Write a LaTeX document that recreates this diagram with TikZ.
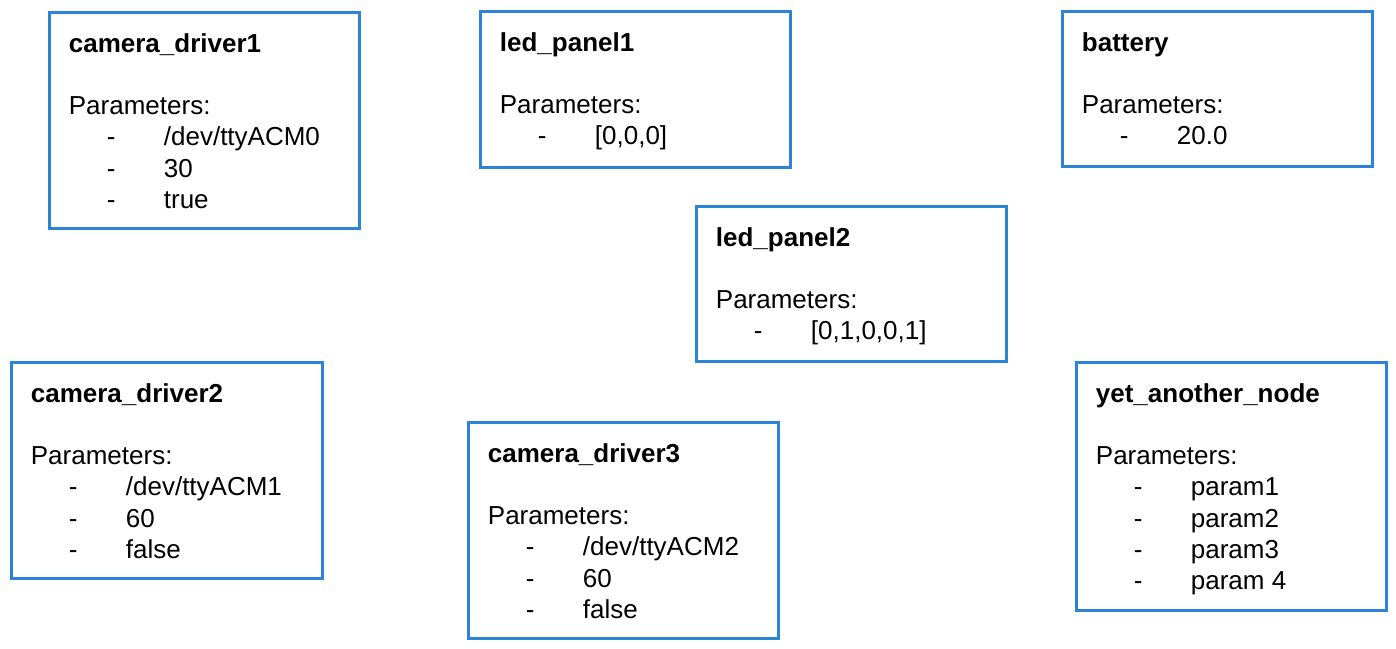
\documentclass[tikz,border=0pt]{standalone}
\usepackage{fontspec}
\setmainfont{Liberation Sans}
\usetikzlibrary{fit,calc}
\definecolor{boxblue}{RGB}{44,132,216}
\newcommand\mybox[6]{%
  \node[box, fit={(#2,#3) (#4,#5)}] (#1) {};
  \node[ttl] (#1-t) at ($(#1.north west)+(21,42)$) {#6};
  \node[txt] (#1-p) at ($(#1.north west)+(21,104)$) {Parameters:};
}
\newcommand\myitem[3]{%
  \node[txt] (#1-d#2) at ($(#1.north west)+(59,104+31.3*#2)$) {-};
  \node[txt] (#1-v#2) at ($(#1.north west)+(116,104+31.3*#2)$) {#3};
}
\tikzset{
  box/.style={draw=boxblue, line width=1.5pt, inner sep=0pt, fill=white},
  txt/.style={anchor=base west, inner sep=0pt, font=\fontsize{13}{15}\selectfont},
  ttl/.style={txt, font=\fontsize{13}{15}\selectfont\bfseries},
}
\begin{document}
\begin{tikzpicture}[x=0.5pt,y=-0.5pt]
\useasboundingbox (0,0) rectangle (1396,648);
\mybox{cd1}{49}{12}{359}{228}{camera\_driver1}
\myitem{cd1}{1}{/dev/ttyACM0}
\myitem{cd1}{2}{30}
\myitem{cd1}{3}{true}
\mybox{lp1}{480}{11}{790}{167}{led\_panel1}
\myitem{lp1}{1}{[0,0,0]}
\mybox{bat}{1062}{11}{1372}{166}{battery}
\myitem{bat}{1}{20.0}
\mybox{lp2}{696}{206}{1006}{361}{led\_panel2}
\myitem{lp2}{1}{[0,1,0,0,1]}
\mybox{cd2}{11}{362}{322}{578}{camera\_driver2}
\myitem{cd2}{1}{/dev/ttyACM1}
\myitem{cd2}{2}{60}
\myitem{cd2}{3}{false}
\mybox{cd3}{468}{422}{778}{638}{camera\_driver3}
\myitem{cd3}{1}{/dev/ttyACM2}
\myitem{cd3}{2}{60}
\myitem{cd3}{3}{false}
\mybox{yan}{1076}{362}{1386}{610}{yet\_another\_node}
\myitem{yan}{1}{param1}
\myitem{yan}{2}{param2}
\myitem{yan}{3}{param3}
\myitem{yan}{4}{param 4}
\end{tikzpicture}
\end{document}
